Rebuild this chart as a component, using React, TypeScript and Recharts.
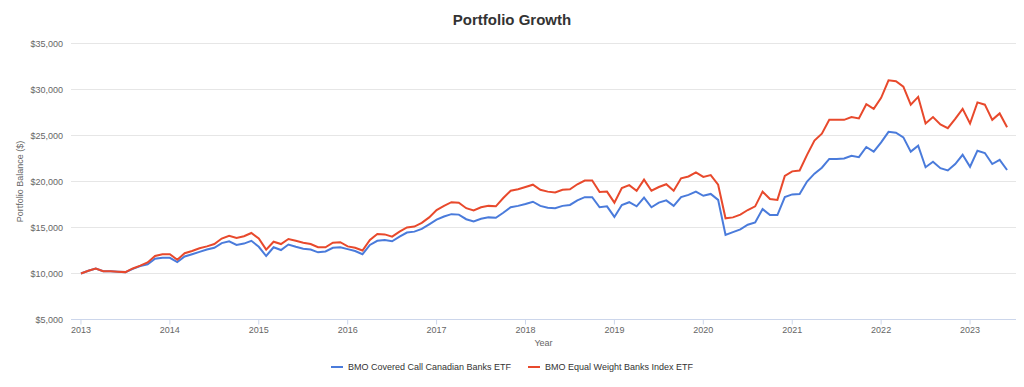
import React from 'react';
import { LineChart, Line, XAxis, YAxis, CartesianGrid, Legend } from 'recharts';

const START_YEAR = 2013;

const seriesNames = ['BMO Covered Call Canadian Banks ETF', 'BMO Equal Weight Banks Index ETF'];
const seriesColors = ['#4a7bdb', '#e8492c'];

// Monthly balances, Jan 2013 .. Jun 2023
const coveredCall = [
  10000, 10300, 10550, 10250, 10250, 10200, 10150, 10500, 10800, 11000, 11600, 11700,
  11700, 11250, 11850, 12100, 12350, 12600, 12800, 13300, 13500, 13100, 13250, 13550,
  12900, 11900, 12850, 12550, 13150, 12900, 12700, 12600, 12300, 12400, 12800, 12850,
  12650, 12450, 12100, 13100, 13550, 13650, 13500, 14000, 14450, 14550, 14850, 15350,
  15850, 16200, 16450, 16400, 15900, 15650, 15950, 16100, 16050, 16600, 17200, 17350,
  17550, 17800, 17350, 17150, 17100, 17350, 17450, 17950, 18300, 18300, 17200, 17300,
  16150, 17450, 17750, 17300, 18250, 17200, 17700, 17950, 17350, 18300, 18550, 18900,
  18450, 18650, 18000, 14200, 14500, 14800, 15300, 15550, 17000, 16350, 16350, 18300,
  18600, 18650, 20000, 20850, 21500, 22450, 22450, 22500, 22800, 22650, 23750, 23250,
  24250, 25400, 25300, 24800, 23250, 23900, 21550, 22150, 21450, 21200, 21900, 22900,
  21600, 23350, 23100, 21900, 22350, 21250,
];

const equalWeight = [
  10000, 10300, 10550, 10250, 10250, 10200, 10150, 10550, 10850, 11200, 11900, 12100,
  12100, 11500, 12200, 12450, 12750, 12950, 13200, 13800, 14100, 13850, 14050, 14400,
  13800, 12600, 13450, 13200, 13750, 13550, 13350, 13200, 12850, 12850, 13350, 13400,
  12950, 12800, 12500, 13650, 14300, 14250, 14000, 14550, 15000, 15100, 15500, 16100,
  16900, 17350, 17750, 17700, 17100, 16850, 17200, 17350, 17300, 18200, 19000, 19150,
  19400, 19650, 19100, 18900, 18800, 19100, 19150, 19700, 20100, 20100, 18850, 18900,
  17700, 19300, 19600, 19000, 20200, 19000, 19400, 19700, 19000, 20350, 20550, 21000,
  20500, 20700, 19650, 16000, 16100, 16400, 16900, 17300, 18900, 18100, 18000, 20600,
  21100, 21200, 22900, 24450, 25200, 26700, 26700, 26700, 27000, 26850, 28400, 27900,
  29100, 31000, 30900, 30300, 28350, 29200, 26300, 27000, 26200, 25800, 26800, 27900,
  26300, 28600, 28350, 26700, 27400, 25900,
];

const yearTicks = [2013, 2014, 2015, 2016, 2017, 2018, 2019, 2020, 2021, 2022, 2023];
const valueTicks = [5000, 10000, 15000, 20000, 25000, 30000, 35000];

const data = coveredCall.map((v, i) => ({
  t: START_YEAR + i / 12,
  cc: v,
  ew: equalWeight[i],
}));

const FONT = '"Liberation Sans", Arial, Helvetica, sans-serif';

const fmtMoney = (v: number) => '$' + v.toLocaleString('en-US');

const LegendContent = () => (
  <div style={{ display: 'flex', justifyContent: 'center', alignItems: 'center', fontFamily: FONT, fontSize: 9, color: '#333' }}>
    {seriesNames.map((n, i) => (
      <div key={n} style={{ display: 'flex', alignItems: 'center', marginRight: i === 0 ? 17 : 0 }}>
        <svg width={12} height={10} style={{ marginRight: 5 }}>
          <line x1={0} y1={5} x2={12} y2={5} stroke={seriesColors[i]} strokeWidth={2} />
        </svg>
        <span>{n}</span>
      </div>
    ))}
  </div>
);

export default function App() {
  return (
    <div style={{ position: 'absolute', left: 0, top: 0, width: 1024, height: 387, background: '#fff' }}>
      <div
        style={{
          position: 'absolute',
          left: 0,
          top: 11,
          width: 1024,
          textAlign: 'center',
          fontFamily: FONT,
          fontWeight: 'bold',
          fontSize: 15,
          color: '#333',
          lineHeight: '18px',
        }}
      >
        Portfolio Growth
      </div>
      <LineChart
        width={1024}
        height={387}
        data={data}
        margin={{ top: 43.5, right: 8, left: 11, bottom: 37.5 }}
        style={{ fontFamily: FONT }}
      >
        <CartesianGrid vertical={false} stroke="#e6e6e6" />
        <XAxis
          type="number"
          dataKey="t"
          domain={[2012.888, 2023.517]}
          ticks={yearTicks}
          allowDataOverflow
          height={30}
          stroke="#ccd6eb"
          tickSize={5}
          tick={{ fontSize: 9, fill: '#666' }}
          tickFormatter={(v: number) => String(Math.round(v))}
          label={({ viewBox }: any) => (
            <text x={viewBox.x + viewBox.width / 2} y={346} textAnchor="middle" fontSize={9} fill="#666">
              Year
            </text>
          )}
        />
        <YAxis
          width={60}
          domain={[5000, 35000]}
          ticks={valueTicks}
          axisLine={false}
          tickLine={false}
          tick={{ fontSize: 9, fill: '#666' }}
          tickFormatter={fmtMoney}
          label={({ viewBox }: any) => {
            const cx = 20;
            const cy = viewBox.y + viewBox.height / 2;
            return (
              <text x={cx} y={cy} transform={`rotate(-90 ${cx} ${cy})`} textAnchor="middle" dominantBaseline="central" fontSize={9} fill="#666">
                Portfolio Balance ($)
              </text>
            );
          }}
        />
        <Legend
          verticalAlign="middle"
          align="center"
          layout="horizontal"
          wrapperStyle={{ position: 'absolute', top: 362, left: 0, width: 1024 }}
          content={<LegendContent />}
        />
        <Line type="linear" dataKey="cc" name={seriesNames[0]} stroke={seriesColors[0]} strokeWidth={2} dot={false} isAnimationActive={false} />
        <Line type="linear" dataKey="ew" name={seriesNames[1]} stroke={seriesColors[1]} strokeWidth={2} dot={false} isAnimationActive={false} />
      </LineChart>
    </div>
  );
}
